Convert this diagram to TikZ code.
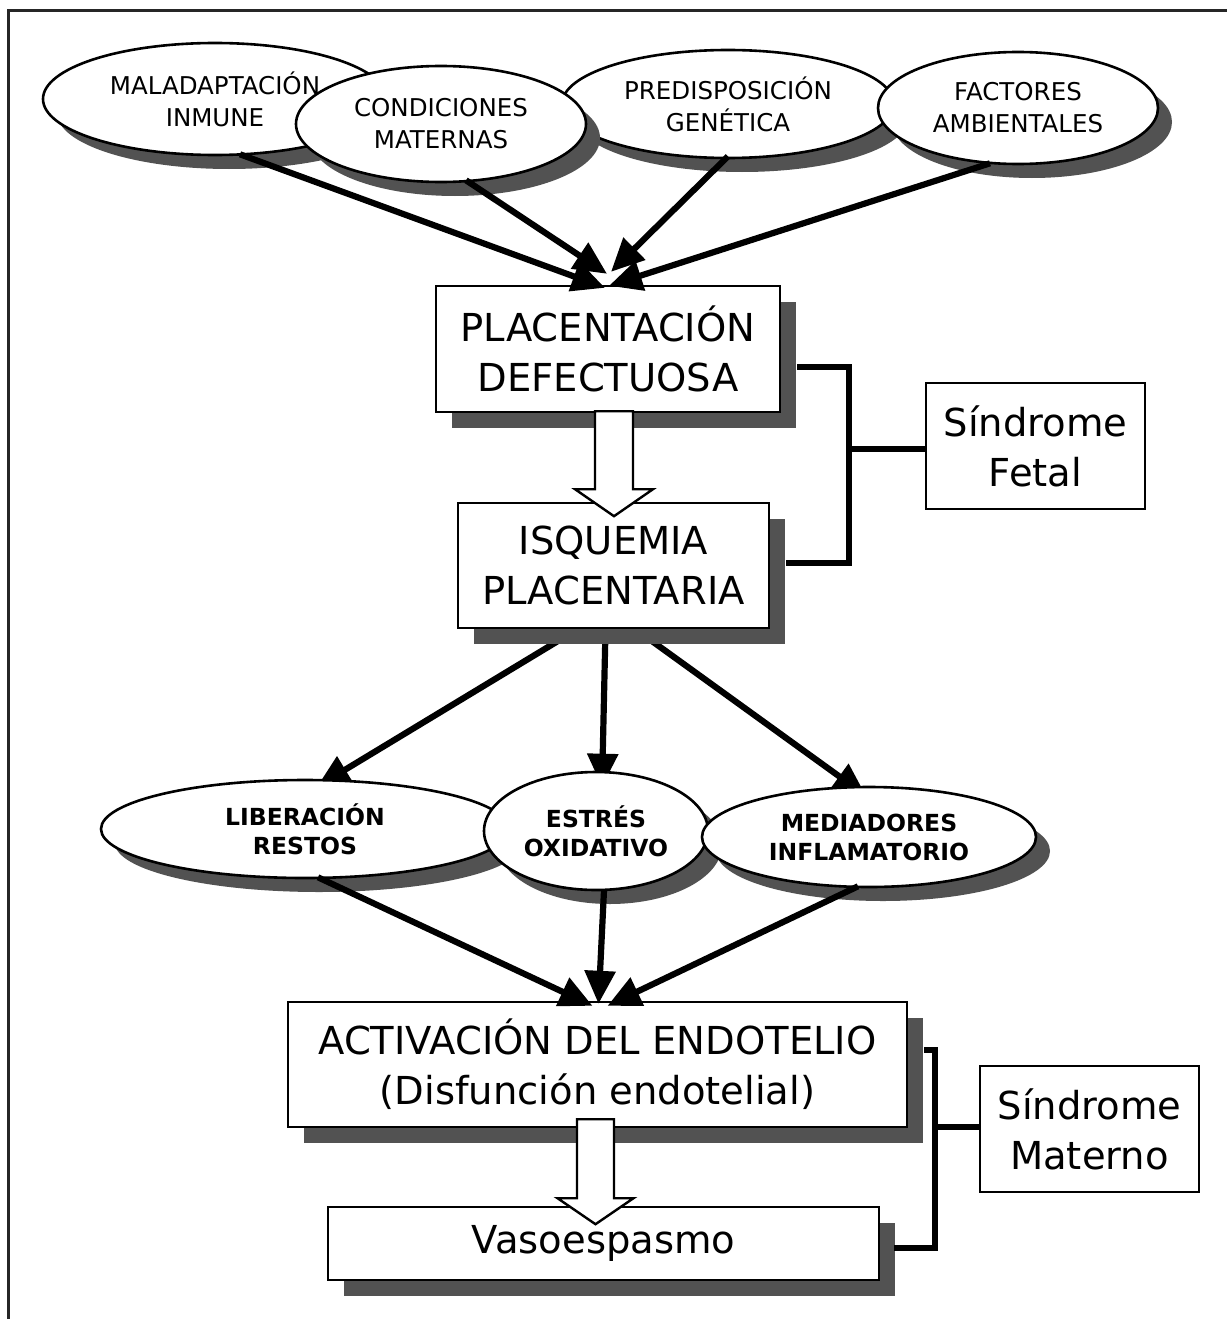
\documentclass[tikz,border=0pt]{standalone}
\usepackage{fontspec}
\setmainfont{DejaVu Sans}
\usetikzlibrary{shapes.geometric,arrows.meta,calc,shadows}
\pgfdeclarelayer{bg}
\pgfsetlayers{bg,main}
\newcommand\fbig{\fontsize{38.5}{50}\selectfont}
\newcommand\fsmall{\fontsize{24.5}{32}\selectfont}
\newcommand\fbold{\fontsize{23.5}{29}\selectfont\bfseries}
\tikzset{
  shad/.style={drop shadow={shadow xshift=#1pt, shadow yshift=-#1pt, fill=black!68, opacity=1, draw=none}},
  box/.style={draw, line width=2.4pt, fill=white, inner sep=0pt, align=center, font=\fbig, shad=16},
  plainbox/.style={draw, line width=2.4pt, fill=white, inner sep=0pt, align=center, font=\fbig},
  topell/.style={ellipse, draw, line width=2.6pt, fill=white, inner sep=0pt, align=center, font=\fsmall, shad=14},
  midell/.style={ellipse, draw, line width=2.6pt, fill=white, inner sep=0pt, align=center, font=\fbold, shad=14},
  arr/.style={line width=6.2pt, -{Triangle[length=33pt,width=30pt]}},
  bracket/.style={line width=6.5pt, line join=miter},
  hollow/.style={draw, line width=2.4pt, fill=white, line join=miter},
}
\begin{document}
\begin{tikzpicture}[x=1pt,y=-1pt]
\useasboundingbox (0,0) rectangle (1227,1319);
\begin{pgfonlayer}{bg}
\fill[white] (0,0) rectangle (1227,1319);
\end{pgfonlayer}
% frame
\draw[line width=3pt, black!85] (8,1319) -- (8,11) -- (1227,11);

% top ellipses
\node[topell, minimum width=344pt, minimum height=112pt] (mal) at (215,99) {MALADAPTACIÓN\\INMUNE};
\node[topell, minimum width=332pt, minimum height=108pt] (pred) at (728,104) {PREDISPOSICIÓN\\GENÉTICA};
\node[topell, minimum width=290pt, minimum height=116pt] (cond) at (441,124) {CONDICIONES\\MATERNAS};
\node[topell, minimum width=280pt, minimum height=112pt] (fac) at (1018,108) {FACTORES\\AMBIENTALES};

% boxes
\node[box, minimum width=344pt, minimum height=126pt] (pd) at (608,349) {PLACENTACIÓN\\DEFECTUOSA};
\node[box, minimum width=311pt, minimum height=125pt] (isq) at (613.5,565.5) {ISQUEMIA\\PLACENTARIA};
\node[plainbox, minimum width=219pt, minimum height=126pt] (sf) at (1035.5,446) {Síndrome\\Fetal};

% middle ellipses
\node[midell, minimum width=408pt, minimum height=98pt] (lib) at (305,829) {LIBERACIÓN\\RESTOS};
\node[midell, minimum width=224pt, minimum height=118pt] (est) at (596,831) {ESTRÉS\\OXIDATIVO};
\node[midell, minimum width=334pt, minimum height=100pt] (med) at (869,837) {MEDIADORES\\INFLAMATORIO};

% lower boxes
\node[box, minimum width=619pt, minimum height=125pt] (act) at (597.5,1064.5) {ACTIVACIÓN DEL ENDOTELIO\\(Disfunción endotelial)};
\node[box, minimum width=551pt, minimum height=73pt] (vas) at (603.5,1243.5) {Vasoespasmo};
\node[plainbox, minimum width=219pt, minimum height=126pt] (sm) at (1089.5,1129) {Síndrome\\Materno};

% top arrows
\draw[arr] ($(mal.south)+(25,-2)$) -- ($(pd.north)+(-3,3)$);
\draw[arr] ($(cond.south)+(25,-3)$) -- ($(pd.north)+(-1,-11)$);
\draw[arr] ($(pred.south)+(0,-3)$) -- ($(pd.north)+(3,-13)$);
\draw[arr] ($(fac.south)+(-28,-2)$) -- ($(pd.north)+(1,1)$);

% middle arrows (under ellipses)
\begin{pgfonlayer}{bg}
\draw[arr] ($(isq.south)+(-36,0)$) -- ($(lib.north)+(12,8)$);
\draw[arr] ($(isq.south)+(-8,0)$) -- ($(est.north)+(6,16)$);
\draw[arr] ($(isq.south)+(22,0)$) -- ($(med.north)+(-3,10)$);
\end{pgfonlayer}

% bottom arrows
\draw[arr] ($(lib.south)+(13,-2)$) -- ($(act.north)+(-5,5)$);
\draw[arr] ($(est.south)+(8,-1)$) -- ($(act.north)+(1,3)$);
\draw[arr] ($(med.south)+(-11,-2)$) -- ($(act.north)+(10,5)$);

% hollow arrows
\coordinate (ha) at ($(pd.south)+(6,-2)$);
\draw[hollow, shift={(ha)}] (-19,0) -- (-19,78) -- (-39,78) -- (0,105) -- (39,78) -- (19,78) -- (19,0) -- cycle;
\coordinate (hb) at ($(act.south)+(-2,-9)$);
\draw[hollow, shift={(hb)}] (-18.5,0) -- (-18.5,79) -- (-38,79) -- (0,105) -- (38,79) -- (18.5,79) -- (18.5,0) -- cycle;

% brackets
\coordinate (fb) at (849,449);
\draw[bracket] ($(pd.east)+(16,18)$) -| (fb) |- ($(isq.east)+(16,-2.5)$);
\draw[bracket] (fb) -- (sf.west |- fb);
\coordinate (mb) at (935,1127);
\draw[bracket] ($(act.east)+(16,-14.5)$) -| (mb) |- ($(vas.east)+(14,4.5)$);
\draw[bracket] (mb) -- (sm.west |- mb);
\end{tikzpicture}
\end{document}
